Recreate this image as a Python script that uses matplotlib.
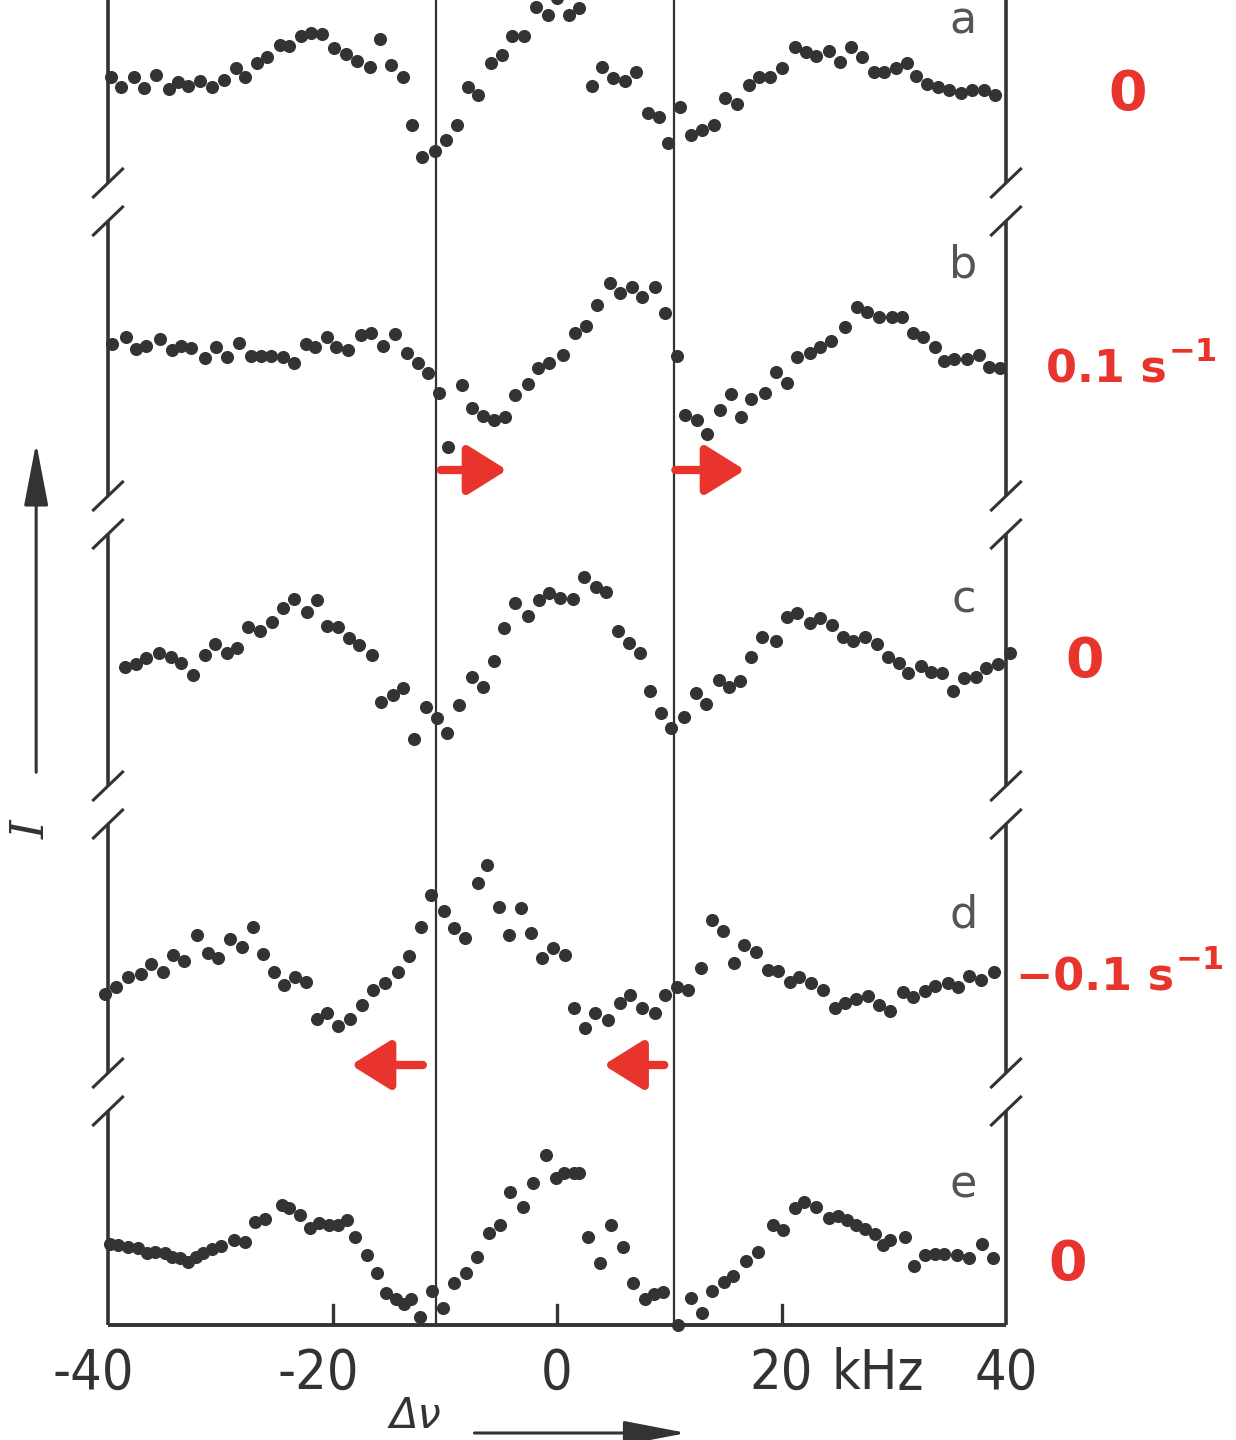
import matplotlib
matplotlib.use("Agg")
import matplotlib.pyplot as plt

# frequency offset (kHz) and intensity (arb. units, each trace relative to its own offset)
a_khz = [-39.7, -38.8, -37.7, -36.8, -35.7, -34.6, -33.8, -32.9, -31.8, -30.7, -29.7, -28.6,
         -27.8, -26.7, -25.8, -24.7, -23.9, -22.8, -21.9, -20.9, -19.9, -18.8, -17.8, -16.7,
         -15.8, -14.8, -13.7, -12.9, -12.0, -10.9, -9.9, -8.9, -7.9, -7.0, -5.9, -4.9, -4.0,
         -2.9, -1.9, -0.8, 0.0, 1.1, 2.0, 3.1, 4.0, 5.0, 6.1, 7.0, 8.1, 9.1, 9.9, 11.0, 11.9,
         12.9, 14.0, 15.0, 16.0, 17.1, 18.0, 19.0, 20.0, 21.2, 22.2, 23.1, 24.2, 25.2, 26.2,
         27.2, 28.2, 29.1, 30.2, 31.2, 32.0, 33.0, 33.9, 34.9, 36.0, 37.0, 38.0, 39.0]
a_int = [8.8, 7.8, 8.8, 7.7, 9.0, 7.6, 8.3, 7.9, 8.4, 7.8, 8.5, 9.7, 8.8, 10.2, 10.8, 12.0,
         11.9, 12.9, 13.2, 13.1, 11.7, 11.1, 10.4, 9.8, 12.6, 10.0, 8.8, 4.0, 0.8, 1.4, 2.5,
         4.0, 7.8, 7.0, 10.2, 11.0, 12.9, 12.9, 15.8, 15.0, 16.7, 15.0, 15.7, 7.9, 9.8, 8.7,
         8.4, 9.3, 5.2, 4.8, 2.2, 5.8, 3.0, 3.5, 4.0, 6.7, 6.1, 8.0, 8.8, 8.8, 9.7, 11.8,
         11.3, 10.9, 11.4, 10.3, 11.8, 10.8, 9.3, 9.3, 9.7, 10.2, 8.9, 8.1, 7.8, 7.5, 7.2,
         7.5, 7.5, 7.0]

b_khz = [-39.6, -38.4, -37.5, -36.6, -35.4, -34.3, -33.5, -32.6, -31.4, -30.4, -29.4, -28.3,
         -27.3, -26.4, -25.5, -24.4, -23.4, -22.4, -21.6, -20.5, -19.7, -18.6, -17.5, -16.6,
         -15.5, -14.4, -13.4, -12.4, -11.5, -10.5, -9.7, -8.5, -7.6, -6.6, -5.6, -4.6, -3.7,
         -2.6, -1.7, -0.7, 0.5, 1.6, 2.6, 3.6, 4.7, 5.6, 6.7, 7.6, 8.7, 9.6, 10.7, 11.4, 12.5,
         13.4, 14.5, 15.5, 16.4, 17.3, 18.5, 19.5, 20.5, 21.4, 22.5, 23.4, 24.4, 25.7, 26.7,
         27.6, 28.7, 29.8, 30.7, 31.7, 32.6, 33.7, 34.5, 35.4, 36.5, 37.6, 38.5, 39.5]
b_int = [10.1, 10.8, 9.6, 9.9, 10.6, 9.5, 9.9, 9.7, 8.7, 9.8, 8.8, 10.2, 8.9, 8.9, 8.9, 8.8,
         8.2, 10.1, 9.8, 10.8, 9.8, 9.5, 11.0, 11.2, 9.9, 11.1, 9.2, 8.2, 7.2, 5.2, -0.2, 6.0,
         3.7, 2.9, 2.5, 2.8, 5.0, 6.1, 7.7, 8.2, 9.0, 11.2, 11.9, 14.0, 16.2, 15.2, 15.8,
         14.8, 15.8, 13.2, 8.9, 3.0, 2.5, 1.1, 3.5, 5.1, 2.8, 4.6, 5.2, 7.3, 6.2, 8.8, 9.2,
         9.8, 10.4, 11.8, 13.8, 13.3, 12.8, 12.8, 12.8, 11.2, 10.8, 9.8, 8.4, 8.6, 8.6, 9.0,
         7.8, 7.7]

c_khz = [-38.5, -37.5, -36.6, -35.5, -34.4, -33.5, -32.4, -31.4, -30.5, -29.4, -28.5, -27.5,
         -26.5, -25.4, -24.4, -23.4, -22.3, -21.4, -20.5, -19.5, -18.5, -17.6, -16.5, -15.7,
         -14.6, -13.7, -12.7, -11.7, -10.7, -9.8, -8.7, -7.6, -6.6, -5.6, -4.7, -3.7, -2.6,
         -1.6, -0.7, 0.3, 1.4, 2.4, 3.5, 4.4, 5.4, 6.4, 7.4, 8.3, 9.3, 10.2, 11.3, 12.4, 13.3,
         14.4, 15.3, 16.3, 17.3, 18.3, 19.5, 20.5, 21.4, 22.5, 23.4, 24.5, 25.5, 26.4, 27.4,
         28.5, 29.5, 30.5, 31.3, 32.4, 33.3, 34.3, 35.3, 36.3, 37.3, 38.2, 39.3, 40.4]
c_int = [8.8, 9.1, 9.7, 10.2, 9.8, 9.2, 8.0, 10.0, 11.1, 10.2, 10.7, 12.8, 12.4, 13.3, 14.7,
         15.6, 14.3, 15.5, 12.9, 12.8, 11.7, 11.0, 10.0, 5.3, 6.0, 6.7, 1.6, 4.8, 3.7, 2.2,
         5.0, 7.8, 6.8, 9.4, 12.7, 15.2, 13.9, 15.5, 16.2, 15.7, 15.6, 17.8, 16.8, 16.3, 12.4,
         11.2, 10.2, 6.4, 4.2, 2.7, 3.8, 6.2, 5.1, 7.5, 6.8, 7.4, 9.8, 11.8, 11.4, 13.8, 14.2,
         13.2, 13.7, 13.0, 11.8, 11.4, 11.8, 11.1, 9.8, 9.2, 8.2, 8.9, 8.3, 8.2, 6.4, 7.7, 7.8,
         8.7, 9.1, 10.2]

d_khz = [-40.3, -39.3, -38.2, -37.1, -36.2, -35.1, -34.2, -33.2, -32.1, -31.1, -30.2, -29.1,
         -28.1, -27.1, -26.2, -25.2, -24.3, -23.3, -22.4, -21.4, -20.5, -19.5, -18.4, -17.4,
         -16.4, -15.3, -14.2, -13.2, -12.1, -11.2, -10.1, -9.2, -8.2, -7.0, -6.2, -5.2, -4.3,
         -3.2, -2.3, -1.3, -0.4, 0.7, 1.5, 2.5, 3.4, 4.5, 5.6, 6.5, 7.6, 8.7, 9.6, 10.7, 11.7,
         12.8, 13.8, 14.8, 15.8, 16.7, 17.7, 18.8, 19.7, 20.8, 21.6, 22.6, 23.7, 24.8, 25.7,
         26.6, 27.7, 28.7, 29.7, 30.8, 31.7, 32.8, 33.7, 34.8, 35.7, 36.7, 37.8, 38.9]
d_int = [6.1, 6.8, 7.8, 8.1, 9.1, 8.3, 10.0, 9.4, 12.0, 10.2, 9.7, 11.6, 10.8, 12.8, 10.1,
         8.3, 7.0, 7.8, 7.3, 3.6, 4.2, 2.9, 3.6, 5.0, 6.5, 7.2, 8.3, 9.9, 12.8, 16.0, 14.4,
         12.7, 11.7, 17.2, 19.0, 14.8, 12.0, 14.7, 12.2, 9.7, 10.7, 10.0, 4.7, 2.7, 4.2, 3.5,
         5.2, 6.0, 4.7, 4.2, 6.0, 6.8, 6.5, 8.7, 13.5, 12.4, 9.2, 11.0, 10.3, 8.5, 8.4, 7.3,
         7.8, 7.2, 6.5, 4.7, 5.2, 5.6, 5.9, 5.0, 4.4, 6.3, 5.8, 6.4, 6.9, 7.2, 6.8, 7.9, 7.5,
         8.3]

e_khz = [-39.8, -39.1, -38.2, -37.3, -36.5, -35.8, -34.9, -34.3, -33.6, -32.9, -32.2, -31.5,
         -30.7, -29.9, -28.8, -27.8, -26.9, -26.0, -24.5, -23.9, -22.9, -22.0, -21.2, -20.3,
         -19.5, -18.7, -18.0, -16.9, -16.0, -15.2, -14.3, -13.6, -13.0, -12.2, -11.1, -10.2,
         -9.2, -8.1, -7.1, -6.1, -5.1, -4.2, -3.0, -2.1, -1.0, -0.1, 0.6, 1.5, 2.0, 2.8, 3.8,
         4.8, 5.9, 6.8, 7.8, 8.6, 9.4, 10.8, 11.9, 12.9, 13.8, 14.9, 15.7, 16.8, 17.9, 19.2,
         20.1, 21.2, 22.0, 23.1, 24.2, 25.0, 25.8, 26.6, 27.4, 28.3, 29.0, 29.7, 31.0, 31.8,
         32.8, 33.7, 34.5, 35.6, 36.7, 37.9, 38.8]
e_int = [8.1, 8.0, 7.8, 7.7, 7.2, 7.3, 7.2, 6.8, 6.7, 6.3, 6.8, 7.2, 7.6, 7.9, 8.5, 8.3,
         10.3, 10.6, 12.0, 11.7, 11.0, 9.7, 10.2, 10.0, 10.0, 10.5, 8.8, 7.0, 5.2, 3.2, 2.6,
         2.1, 2.6, 0.8, 3.4, 1.7, 4.2, 5.2, 6.8, 9.2, 10.0, 13.3, 11.8, 14.2, 17.0, 14.7, 15.2,
         15.2, 15.2, 8.8, 6.2, 10.0, 7.8, 4.2, 2.6, 3.1, 3.3, 0.0, 2.7, 1.2, 3.4, 4.3, 4.9,
         6.4, 7.3, 10.0, 9.5, 11.7, 12.3, 11.8, 10.7, 10.9, 10.5, 10.0, 9.6, 9.1, 8.0, 8.5,
         8.8, 5.9, 7.0, 7.1, 7.1, 7.0, 6.7, 8.1, 6.7]

trace_names = ["a", "b", "c", "d", "e"]
trace_khz = [a_khz, b_khz, c_khz, d_khz, e_khz]
trace_int = [a_int, b_int, c_int, d_int, e_int]
trace_offset = [116, 88, 57, 27, 0]
rate_text = ["0", "0.1 s", "0", "\u22120.1 s", "0"]
rate_sup = ["", "\u22121", "", "\u22121", ""]
line_khz = [-10.8, 10.4]          # the two vertical marker lines
break_levels = [112.3, 81.0, 52.0, 23.3]
xticks = [-40, -20, 0, 20, 40]

INK = "#333333"
RED = "#e8342c"
TOP = 132.5

fig = plt.figure(figsize=(12.36, 14.4), dpi=100)
ax = fig.add_axes([108 / 1236, 115 / 1440, 898 / 1236, 1325 / 1440])
ax.set_xlim(-40, 40)
ax.set_ylim(0, TOP)
ax.axis("off")

# frame: bottom axis + broken side axes
ax.plot([-40, 40], [0, 0], color=INK, lw=2.8, clip_on=False, solid_capstyle="butt")
gap = 1.9
for xs in (-40, 40):
    edges = [0] + sum([[b - gap, b + gap] for b in sorted(break_levels)], []) + [TOP + 1]
    for lo, hi in zip(edges[::2], edges[1::2]):
        ax.plot([xs, xs], [lo, hi], color=INK, lw=2.6, clip_on=False, solid_capstyle="butt")
    for b in break_levels:
        for yy in (b - gap, b + gap):
            ax.plot([xs - 1.3, xs + 1.3], [yy - 1.4, yy + 1.4], color=INK, lw=2.2,
                    clip_on=False)

for xl in line_khz:
    ax.plot([xl, xl], [0, TOP + 1], color=INK, lw=1.6, clip_on=False)

for t in xticks[1:-1]:
    ax.plot([t, t], [0, 2.0], color=INK, lw=2.4)

tick_font = dict(family="DejaVu Sans", fontsize=40, fontstretch="condensed",
                 fontweight="light", color=INK)
for t in xticks:
    lbl = str(t) if t >= 0 else "-" + str(-t)
    ax.text(t - (1.3 if t < 0 else 0), -4.9, lbl, ha="center", va="center", **tick_font)
ax.text(28.6, -4.9, "kHz", ha="center", va="center", **tick_font)

# frequency axis label, sitting on the bottom edge of the page
ax.text(-12.6, -11.2, "\u0394\u03bd", ha="center", va="bottom", fontsize=30,
        style="italic", color=INK, clip_on=False)
ax.annotate("", xy=(11.8, -10.8), xytext=(-7.6, -10.8), annotation_clip=False,
            arrowprops=dict(arrowstyle="-|>,head_length=1.3,head_width=0.25",
                            mutation_scale=30, lw=2.2, color=INK))

# intensity axis label
ax.annotate("", xy=(-46.4, 88.5), xytext=(-46.4, 55), annotation_clip=False,
            arrowprops=dict(arrowstyle="-|>,head_length=1.3,head_width=0.25",
                            mutation_scale=30, lw=2.2, color=INK))
ax.text(-46.8, 49.5, "I", rotation=90, ha="center", va="center", fontsize=34,
        family="DejaVu Serif", style="italic", color=INK, clip_on=False)

for name, xk, yi, off in zip(trace_names, trace_khz, trace_int, trace_offset):
    ax.plot(xk, [v + off for v in yi], "o", ms=8.4, color=INK, mec=INK, clip_on=False)

label_y = [TOP, 106.0, 72.5, 41.0, 14.0]
for name, ly in zip(trace_names, label_y):
    ax.text(36.2, ly, name, ha="center", va="top" if ly == TOP else "center",
            fontsize=32, color="#555555", clip_on=False)

# handwritten rate annotations
rate_pos = [(50.8, 123.0), (43.6, 95.5), (47.0, 66.3), (40.9, 34.7), (45.5, 6.0)]
for txt, sup, (rx, ry) in zip(rate_text, rate_sup, rate_pos):
    ha = "center" if not sup else "left"
    t = ax.text(rx, ry, txt, ha=ha, va="center", fontsize=40 if not sup else 32,
                fontweight="bold", color=RED, clip_on=False)
    if sup:
        ax.annotate(sup, xy=(1, 0.55), xycoords=t, xytext=(1, 0), textcoords="offset points",
                    ha="left", va="bottom", fontsize=23, fontweight="bold", color=RED,
                    annotation_clip=False)

# shift arrows
red_arrow = dict(arrowstyle="-|>,head_length=0.8,head_width=0.5", mutation_scale=30,
                 lw=6, color=RED)
for x0, x1, yy in [(-10.6, -4.2, 85.5), (10.3, 17.0, 85.5),
                   (-11.7, -18.6, 26.0), (9.8, 3.9, 26.0)]:
    ax.annotate("", xy=(x1, yy), xytext=(x0, yy), arrowprops=red_arrow,
                annotation_clip=False)

fig.savefig("out.png", dpi=100, facecolor="white")
